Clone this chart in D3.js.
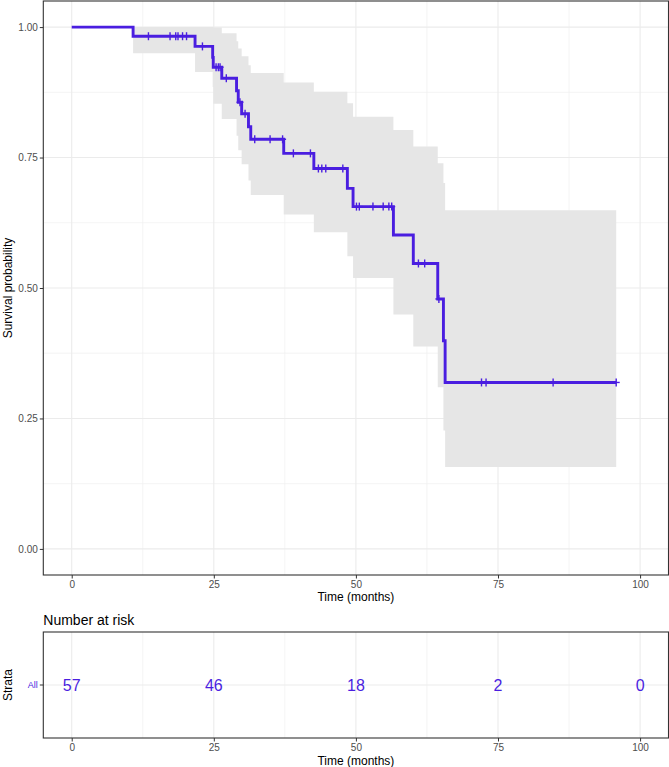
<!DOCTYPE html>
<html>
<head>
<meta charset="utf-8">
<script src="https://cdn.jsdelivr.net/npm/d3@7"></script>
<style>
  html, body { margin: 0; padding: 0; background: #fff; }
  svg { display: block; }
  text { font-family: "Liberation Sans", Arial, sans-serif; }
</style>
</head>
<body>
<svg id="chart" width="669" height="767"></svg>
<script>
// ---- data ----
const stepTimes = [0, 10.8, 21.7, 24.8, 24.9, 26.4, 29.0, 29.3, 29.9, 31.1, 31.5, 37.3, 42.6, 48.5, 49.5, 56.6, 60.1, 64.4, 65.4, 65.7];
const survProb  = [1, 0.9825, 0.963, 0.942, 0.923, 0.902, 0.878, 0.856, 0.834, 0.809, 0.785, 0.758, 0.729, 0.691, 0.656, 0.6015, 0.547, 0.479, 0.399, 0.319];
const upperCI   = [1, 1, 1, 1, 0.999, 0.988, 0.973, 0.959, 0.944, 0.927, 0.912, 0.894, 0.876, 0.854, 0.828, 0.803, 0.771, 0.739, 0.701, 0.649];
const lowerCI   = [1, 0.950, 0.914, 0.885, 0.853, 0.824, 0.792, 0.764, 0.737, 0.706, 0.678, 0.641, 0.607, 0.561, 0.519, 0.449, 0.388, 0.310, 0.227, 0.157];
const lastTime  = 95.8;
const censorTimes = [13.5, 17.3, 18.3, 18.7, 19.5, 20.2, 23.0, 25.4, 25.8, 26.1, 27.2, 29.6, 30.5, 32.2, 34.9, 37.1, 39.0, 42.0, 43.4, 44.0, 44.7, 47.7, 50.1, 50.6, 53.0, 54.8, 55.8, 56.3, 61.0, 62.1, 64.6, 72.1, 72.9, 84.7, 95.8];
const xTicks = [0, 25, 50, 75, 100];
const yTicks = [0, 0.25, 0.5, 0.75, 1];
const yTickLabels = ["0.00", "0.25", "0.50", "0.75", "1.00"];
const riskStrata = ["All"];
const riskTimes = [0, 25, 50, 75, 100];
const riskCounts = [57, 46, 18, 2, 0];

const curveColor = "#4a1ee0";
const svg = d3.select("#chart");

// ---- main panel ----
const P = { left: 43.3, right: 668.5, top: 1, bottom: 575 };
const x = d3.scaleLinear().domain([-5, 105]).range([P.left, P.right]);
const y = d3.scaleLinear().domain([-0.05, 1.05]).range([P.bottom, P.top]);

const g = svg.append("g");
const minorX = [12.5, 37.5, 62.5, 87.5];
const minorY = [0.125, 0.375, 0.625, 0.875];
g.selectAll(".mgx").data(minorX).join("line")
  .attr("x1", d => x(d)).attr("x2", d => x(d)).attr("y1", P.top).attr("y2", P.bottom)
  .attr("stroke", "#efefef").attr("stroke-width", 0.7);
g.selectAll(".mgy").data(minorY).join("line")
  .attr("y1", d => y(d)).attr("y2", d => y(d)).attr("x1", P.left).attr("x2", P.right)
  .attr("stroke", "#efefef").attr("stroke-width", 0.7);
g.selectAll(".gx").data(xTicks).join("line")
  .attr("x1", d => x(d)).attr("x2", d => x(d)).attr("y1", P.top).attr("y2", P.bottom)
  .attr("stroke", "#ebebeb").attr("stroke-width", 1.1);
g.selectAll(".gy").data(yTicks).join("line")
  .attr("y1", d => y(d)).attr("y2", d => y(d)).attr("x1", P.left).attr("x2", P.right)
  .attr("stroke", "#ebebeb").attr("stroke-width", 1.1);

// confidence band
const bandData = stepTimes.map((t, i) => ({ t, lo: lowerCI[i], hi: upperCI[i] }));
bandData.push({ t: lastTime, lo: lowerCI[lowerCI.length - 1], hi: upperCI[upperCI.length - 1] });
g.append("path").datum(bandData)
  .attr("d", d3.area().curve(d3.curveStepAfter).x(d => x(d.t)).y0(d => y(d.lo)).y1(d => y(d.hi)))
  .attr("fill", "#e6e6e6");

// survival curve
const curveData = stepTimes.map((t, i) => ({ t, s: survProb[i] }));
curveData.push({ t: lastTime, s: survProb[survProb.length - 1] });
g.append("path").datum(curveData)
  .attr("d", d3.line().curve(d3.curveStepAfter).x(d => x(d.t)).y(d => y(d.s)))
  .attr("fill", "none").attr("stroke", curveColor).attr("stroke-width", 2.9);

// censor marks
function survAt(t) {
  let s = 1;
  for (let i = 0; i < stepTimes.length; i++) if (stepTimes[i] <= t) s = survProb[i];
  return s;
}
const cg = g.append("g").attr("stroke", curveColor).attr("stroke-width", 1.4);
censorTimes.forEach(t => {
  const cx = x(t), cy = y(survAt(t));
  cg.append("line").attr("x1", cx).attr("x2", cx).attr("y1", cy - 4).attr("y2", cy + 4);
  cg.append("line").attr("x1", cx - 3.5).attr("x2", cx + 3.5).attr("y1", cy).attr("y2", cy);
});

// panel border
g.append("rect").attr("x", P.left).attr("y", P.top).attr("width", P.right - P.left).attr("height", P.bottom - P.top)
  .attr("fill", "none").attr("stroke", "#333").attr("stroke-width", 1.1);

// axes
const xAxis = d3.axisBottom(x).tickValues(xTicks).tickSize(3.5).tickPadding(2);
const xa = svg.append("g").attr("transform", `translate(0,${P.bottom})`).call(xAxis);
xa.select(".domain").remove();
xa.selectAll(".tick line").attr("stroke", "#333");
xa.selectAll("text").attr("fill", "#4d4d4d").style("font-size", "10px");

const yAxis = d3.axisLeft(y).tickValues(yTicks).tickFormat((d, i) => yTickLabels[i]).tickSize(3.5).tickPadding(2);
const ya = svg.append("g").attr("transform", `translate(${P.left},0)`).call(yAxis);
ya.select(".domain").remove();
ya.selectAll(".tick line").attr("stroke", "#333");
ya.selectAll("text").attr("fill", "#4d4d4d").style("font-size", "10px");

svg.append("text").attr("x", (P.left + P.right) / 2).attr("y", 601).attr("text-anchor", "middle")
  .style("font-size", "12px").attr("fill", "#000").text("Time (months)");
svg.append("text").attr("transform", `translate(12,${(P.top + P.bottom) / 2}) rotate(-90)`).attr("text-anchor", "middle")
  .style("font-size", "12px").attr("fill", "#000").text("Survival probability");

// ---- risk table ----
const R = { top: 632, bottom: 738 };
svg.append("text").attr("x", P.left).attr("y", 625).style("font-size", "14px").attr("fill", "#000").text("Number at risk");
const ry = d3.scaleBand().domain(riskStrata).range([R.bottom, R.top]);
const rg = svg.append("g");
rg.selectAll(".mgx").data(minorX).join("line")
  .attr("x1", d => x(d)).attr("x2", d => x(d)).attr("y1", R.top).attr("y2", R.bottom)
  .attr("stroke", "#efefef").attr("stroke-width", 0.7);
rg.selectAll(".gx").data(xTicks).join("line")
  .attr("x1", d => x(d)).attr("x2", d => x(d)).attr("y1", R.top).attr("y2", R.bottom)
  .attr("stroke", "#ebebeb").attr("stroke-width", 1.1);
rg.selectAll(".gy").data(riskStrata).join("line")
  .attr("y1", d => ry(d) + ry.bandwidth() / 2).attr("y2", d => ry(d) + ry.bandwidth() / 2)
  .attr("x1", P.left).attr("x2", P.right)
  .attr("stroke", "#ebebeb").attr("stroke-width", 1.1);
rg.selectAll(".cnt").data(riskTimes).join("text")
  .attr("x", d => x(d)).attr("y", ry("All") + ry.bandwidth() / 2).attr("dy", "0.36em")
  .attr("text-anchor", "middle").style("font-size", "16px").attr("fill", curveColor)
  .text((d, i) => riskCounts[i]);
rg.append("rect").attr("x", P.left).attr("y", R.top).attr("width", P.right - P.left).attr("height", R.bottom - R.top)
  .attr("fill", "none").attr("stroke", "#333").attr("stroke-width", 1.1);

const rxa = svg.append("g").attr("transform", `translate(0,${R.bottom})`).call(xAxis);
rxa.select(".domain").remove();
rxa.selectAll(".tick line").attr("stroke", "#333");
rxa.selectAll("text").attr("fill", "#4d4d4d").style("font-size", "10px");

const rya = svg.append("g").attr("transform", `translate(${P.left},0)`).call(d3.axisLeft(ry).tickSize(3.5).tickPadding(2));
rya.select(".domain").remove();
rya.selectAll(".tick line").attr("stroke", "#333");
rya.selectAll("text").attr("fill", curveColor).style("font-size", "9px");

svg.append("text").attr("x", (P.left + P.right) / 2).attr("y", 765).attr("text-anchor", "middle")
  .style("font-size", "12px").attr("fill", "#000").text("Time (months)");
svg.append("text").attr("transform", `translate(12,${(R.top + R.bottom) / 2}) rotate(-90)`).attr("text-anchor", "middle")
  .style("font-size", "12px").attr("fill", "#000").text("Strata");
</script>
</body>
</html>
